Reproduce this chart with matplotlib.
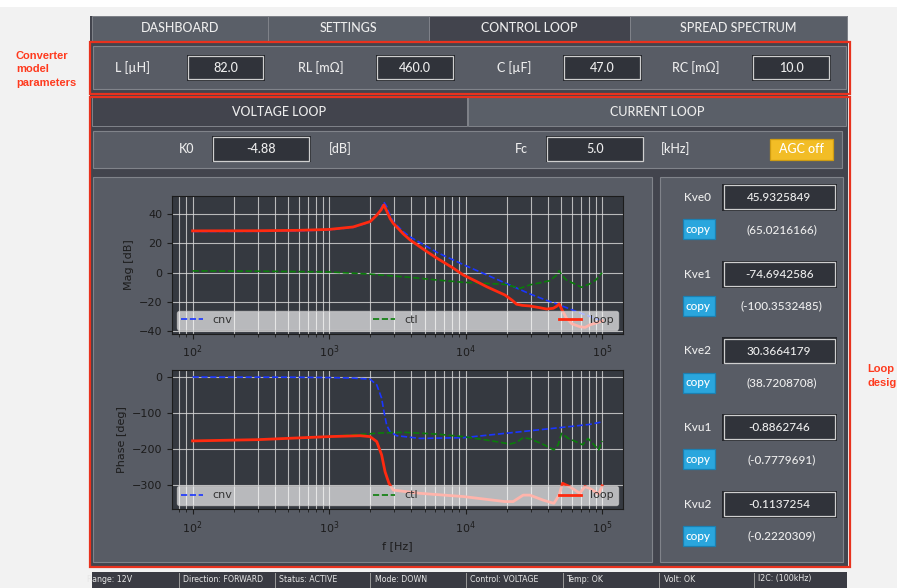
import matplotlib
matplotlib.use("Agg")
import matplotlib.pyplot as plt
from matplotlib.patches import Rectangle

W, H = 897, 588

# ---- texts shown in the GUI ----
tabs = ["DASHBOARD", "SETTINGS", "CONTROL LOOP", "SPREAD SPECTRUM"]
model_labels = ["L [µH]", "RL [mΩ]", "C [µF]", "RC [mΩ]"]
model_values = ["82.0", "460.0", "47.0", "10.0"]
k_names = ["Kve0", "Kve1", "Kve2", "Kvu1", "Kvu2"]
k_values = ["45.9325849", "-74.6942586", "30.3664179", "-0.8862746", "-0.1137254"]
k_prev = ["(65.0216166)", "(-100.3532485)", "(38.7208708)", "(-0.7779691)", "(-0.2220309)"]
status_items = ["Range: 12V", "Direction: FORWARD", "Status: ACTIVE", "Mode: DOWN",
                "Control: VOLTAGE", "Temp: OK", "Volt: OK", "I2C: (100kHz)"]

# ---- bode data ----
f_cnv_mag = [100, 300, 600, 1000, 1500, 2000, 2240, 2400, 2520, 2650, 2800, 2950, 3500,
             3920, 6140, 9620, 14250, 19400, 29500, 39200, 48400, 68600, 100000]
cnv_mag = [28.2, 28.3, 28.6, 29.3, 31.0, 34.8, 39.5, 44.0, 48.4, 45.0, 39.0, 34.9, 28.0,
           24.5, 14.0, 5.5, -1.5, -7.0, -14.5, -19.0, -22.0, -27.5, -33.0]

f_ctl_mag = [100, 300, 1000, 2000, 3920, 6140, 9620, 19400, 25000, 29500, 41400, 46000,
             48400, 51000, 54800, 70600, 81000, 90000, 100000]
ctl_mag = [1.2, 1.0, 0.5, -1.0, -3.2, -5.0, -6.6, -8.0, -10.7, -8.4, -5.5, -2.0,
           1.4, -2.0, -5.0, -10.0, -7.7, -5.0, 0.0]

f_loop_mag = [100, 300, 600, 1000, 1500, 2000, 2240, 2400, 2520, 2650, 2800, 2950, 3500,
              3920, 5000, 6140, 8000, 9620, 12000, 14250, 19400, 22000, 23600, 26000,
              29500, 35000, 39200, 43800, 46500, 48400, 50500, 54800, 60000, 68600,
              75000, 81000, 90000, 100000]
loop_mag = [28.6, 28.7, 29.0, 29.6, 31.3, 35.0, 39.5, 43.0, 46.4, 42.0, 37.0, 33.8, 26.5,
            22.4, 15.5, 10.0, 3.5, -1.6, -6.0, -9.6, -15.3, -19.0, -21.6, -22.4,
            -22.8, -24.0, -24.9, -24.4, -23.0, -21.4, -25.0, -31.2, -35.0, -37.0,
            -37.5, -35.8, -34.5, -33.0]

f_cnv_ph = [100, 500, 1000, 1500, 1995, 2234, 2425, 2524, 2640, 2793, 3126, 4636, 9616,
            19410, 48950, 81000, 100000]
cnv_ph = [0, -0.5, -1.5, -3, -6, -22, -59, -97, -134, -152, -163.5, -171, -169,
          -157, -141, -132, -125]

f_ctl_ph = [100, 300, 1000, 1500, 2000, 2360, 3500, 6140, 9616, 14250, 21100, 23600,
            26400, 29540, 37000, 44300, 47600, 50400, 56600, 68600, 72000, 78900,
            94400, 100000]
ctl_ph = [-178, -174.5, -166, -161, -158, -156, -154, -159, -166, -175.5, -186.6, -182,
          -169, -172, -187.6, -203, -189, -157, -171, -185, -189, -171,
          -203, -178]

f_loop_ph = [100, 300, 1000, 1687, 1995, 2234, 2425, 2570, 2744, 2951, 4636, 9616, 19410,
             22290, 26400, 29540, 37000, 44300, 48400, 51300, 57900, 68600, 74600,
             81000, 94400, 100000]
loop_ph = [-178, -174.5, -166, -163.5, -166, -180, -217, -264, -296, -315, -324, -333, -347,
           -347, -329, -329, -343, -352, -329, -296, -305.5, -324, -305,
           -310, -326, -303]

# ---- colours ----
BG_LIGHT = "#f2f2f2"
FRAME = "#42444d"
TAB = "#5a5f68"
GROUP = "#585c65"
GROUP_EDGE = "#80838a"
FIELD = "#30333a"
FIELD_EDGE = "#cfcfcf"
TXT = "#ededed"
RED = "#e8321e"
PLOT_BG = "#353940"
INK = "#1c1c1c"
GUI_FONT = ["Lato", "DejaVu Sans"]

fig = plt.figure(figsize=(W / 100, H / 100), dpi=100, facecolor=BG_LIGHT)
bg = fig.add_axes([0, 0, 1, 1])
bg.set_xlim(0, W)
bg.set_ylim(H, 0)
bg.axis("off")


def rect(x0, y0, x1, y1, fc, ec="none", lw=0.8, z=1):
  p = Rectangle((x0, y0), x1 - x0, y1 - y0, facecolor=fc, edgecolor=ec, linewidth=lw, zorder=z)
  bg.add_patch(p)
  return p


def txt(x, y, s, size=9, color=TXT, ha="center", z=5, family=GUI_FONT, weight="medium", **kw):
  return bg.text(x, y, s, fontsize=size, color=color, ha=ha, va="center",
                 family=family, fontweight=weight, zorder=z, **kw)


def field(x0, y0, x1, y1, s, size=9):
  rect(x0 - 1.5, y0 - 1.5, x1 + 1.5, y1 + 1.5, "#25272c", z=2)
  rect(x0, y0, x1, y1, FIELD, ec=FIELD_EDGE, lw=0.9, z=3)
  txt((x0 + x1) / 2, (y0 + y1) / 2 + 0.5, s, size=size)


# white strip on top, dark app frame
rect(0, 0, W, 7, "white", z=0)
rect(90, 16, 848, 567, FRAME, z=0.5)

# top tabs
tab_x = [92, 268, 429, 630, 847]
for i, name in enumerate(tabs):
  fc = FRAME if name == "CONTROL LOOP" else TAB
  rect(tab_x[i], 16, tab_x[i + 1], 41, fc, ec=GROUP_EDGE, lw=0.7)
  txt((tab_x[i] + tab_x[i + 1]) / 2, 28, name, size=9)

# converter model group
rect(92.5, 46, 846, 89, GROUP, ec=GROUP_EDGE, lw=0.8)
label_x = [132.5, 320.5, 514, 696]
box_x = [(188, 263), (377, 453), (564, 640), (753, 829)]
for lab, lx, (x0, x1), val in zip(model_labels, label_x, box_x, model_values):
  txt(lx, 67.5, lab, size=9)
  field(x0, 56, x1, 79, val)

# voltage / current loop sub tabs
rect(92, 97, 467, 126, FRAME, ec=GROUP_EDGE, lw=0.7)
rect(468, 97, 846, 126, TAB, ec=GROUP_EDGE, lw=0.7)
txt(279, 111.5, "VOLTAGE LOOP", size=9)
txt(657, 111.5, "CURRENT LOOP", size=9)

# K0 / Fc row
rect(93, 131, 842, 167.5, GROUP, ec=GROUP_EDGE, lw=0.8)
txt(186.5, 149, "K0", size=9)
field(213, 137, 309, 160.5, "-4.88")
txt(340, 149, "[dB]", size=9)
txt(521.5, 149, "Fc", size=9)
field(547, 137, 642.5, 160.5, "5.0")
txt(676, 149, "[kHz]", size=9)
rect(769.5, 138.5, 833, 159.5, "#f2bd26", ec="#cf9c12", lw=0.9)
txt(801.5, 149, "AGC off", size=9, color="white")

# plot group and gain group
rect(93, 177, 652, 561.5, GROUP, ec=GROUP_EDGE, lw=0.8)
rect(660, 177, 843, 562, GROUP, ec=GROUP_EDGE, lw=0.8)

for i, (nm, val, prev) in enumerate(zip(k_names, k_values, k_prev)):
  yc = 197.3 + i * 76.7
  txt(697.5, yc, nm, size=8.5)
  field(723.5, yc - 12, 835, yc + 12, val, size=8.5)
  yb = yc + 32
  rect(682.5, yb - 10, 714.5, yb + 10, "#2aa6dd", ec="#1b80b2", lw=0.9)
  txt(698.5, yb, "copy", size=8.5, color="white")
  txt(781.5, yb, prev, size=8.5)

# red annotation boxes
rect(89.5, 42, 850, 94, "none", ec=RED, lw=1.6, z=6)
rect(89.5, 96.5, 850, 567, "none", ec=RED, lw=1.6, z=6)
ann = dict(size=8, color="#ff3a1e", ha="left", family=["Liberation Sans", "DejaVu Sans"],
           weight="bold")
txt(16, 56, "Converter", **ann)
txt(16, 69.5, "model", **ann)
txt(16, 82.5, "parameters", **ann)
txt(867, 369, "Loop", **ann)
txt(867, 382.5, "design", **ann)

# status bar
sb = rect(92, 571.5, 847, 588, "#3a3b43")
sep_x = [179, 275, 370, 466, 562.5, 658.5, 754]
for sx in sep_x:
  bg.plot([sx, sx], [572.5, 587], color="#9a9a9a", lw=0.7, zorder=3)
stat_x = [87, 183, 278.6, 374.7, 470, 566, 663.6, 758]
for sx, s in zip(stat_x, status_items):
  t = txt(sx, 579, s, size=6.3, ha="left", color="#e6e6e6",
          family=["DejaVu Sans"], weight="normal", fontstretch="condensed")
  t.set_clip_path(sb)


# ---- bode axes ----
def px_axes(l, t, r, b):
  return fig.add_axes([l / W, 1 - b / H, (r - l) / W, (b - t) / H])


def style_ax(ax):
  ax.set_facecolor(PLOT_BG)
  ax.set_xscale("log")
  ax.set_xlim(71, 141000)
  ax.grid(True, which="both", color="#dadada", lw=0.8, alpha=0.8)
  for s in ax.spines.values():
    s.set_color(INK)
  ax.tick_params(which="both", colors=INK, labelsize=8)


def add_legend(ax):
  leg = ax.legend(loc="lower left", ncol=3, mode="expand", fontsize=8,
                  facecolor="white", framealpha=0.65, edgecolor="#d0d0d0",
                  borderaxespad=0.4)
  for t in leg.get_texts():
    t.set_color("#333333")


ax1 = px_axes(172.3, 196, 622.5, 334)
style_ax(ax1)
ax1.plot(f_cnv_mag, cnv_mag, "--", color="#1a35ff", lw=1.2, label="cnv")
ax1.plot(f_ctl_mag, ctl_mag, "--", color="#0a7d0a", lw=1.2, label="ctl")
ax1.plot(f_loop_mag, loop_mag, "-", color="#ff2a10", lw=2, label="loop")
ax1.set_ylim(-42, 52.5)
ax1.set_yticks([-40, -20, 0, 20, 40])
ax1.set_ylabel("Mag [dB]", fontsize=8, color=INK)
add_legend(ax1)

ax2 = px_axes(172.3, 370.3, 622.5, 509.3)
style_ax(ax2)
ax2.plot(f_cnv_ph, cnv_ph, "--", color="#1a35ff", lw=1.2, label="cnv")
ax2.plot(f_ctl_ph, ctl_ph, "--", color="#0a7d0a", lw=1.2, label="ctl")
ax2.plot(f_loop_ph, loop_ph, "-", color="#ff2a10", lw=2, label="loop")
ax2.set_ylim(-368.5, 18.7)
ax2.set_yticks([-300, -200, -100, 0])
ax2.set_ylabel("Phase [deg]", fontsize=8, color=INK)
ax2.set_xlabel("f [Hz]", fontsize=8, color=INK)
add_legend(ax2)

fig.savefig("out.png", dpi=100, facecolor=BG_LIGHT)
